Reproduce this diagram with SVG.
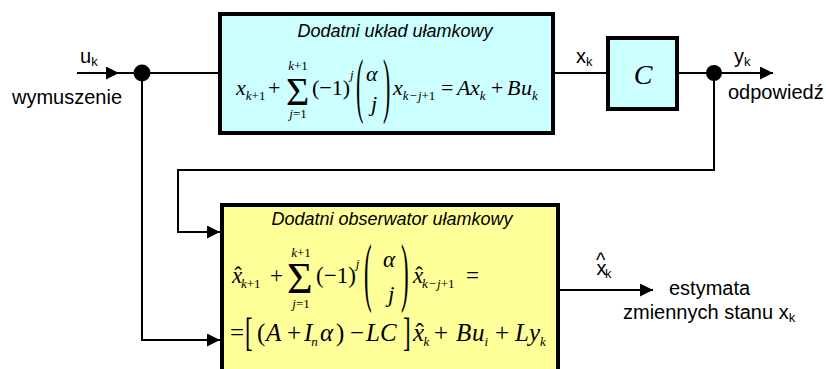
<svg xmlns="http://www.w3.org/2000/svg" width="826" height="369" viewBox="0 0 826 369">
<defs>
  <marker id="arr" markerWidth="13" markerHeight="13" refX="13" refY="6.5" orient="auto" markerUnits="userSpaceOnUse">
    <path d="M0,0 L13,6.5 L0,13 Z" fill="#000"/>
  </marker>
</defs>
<style>
  .ln{stroke:#000;stroke-width:2;fill:none}
  .box{stroke:#000;stroke-width:4}
  .lbl{font-family:"Liberation Sans",Arial,sans-serif;font-size:20px;fill:#000}
  .lsub{font-size:13px}
  .ttl{font-family:"Liberation Sans",Arial,sans-serif;font-size:18px;font-style:italic;text-anchor:middle;fill:#000}
  .m{font-family:"Liberation Serif","Times New Roman",serif;font-size:22px;fill:#000}
  .y{font-size:23px}
  .z{font-size:25px}
  .i{font-style:italic}
  .n{font-style:normal}
  .s{font-size:13px}
  .c{text-anchor:middle}
  .sig1{font-size:40px}
  .sig2{font-size:44px}
  .bigC{font-size:28px}
</style>
<rect width="826" height="369" fill="#fff"/>

<g id="connectors">
  <path class="ln" d="M77,73 H119" marker-end="url(#arr)"/>
  <path class="ln" d="M118,73 H218"/>
  <path class="ln" d="M142,73 V340 H220" marker-end="url(#arr)"/>
  <path class="ln" d="M555,73 H607"/>
  <path class="ln" d="M678,73 H773" marker-end="url(#arr)"/>
  <path class="ln" d="M714,73 V170 H178 V232 H220" marker-end="url(#arr)"/>
  <path class="ln" d="M560,290 H653" marker-end="url(#arr)"/>
  <circle cx="142" cy="73" r="8.5" fill="#000"/>
  <circle cx="714" cy="73" r="8" fill="#000"/>
</g>

<g id="labels">
  <text class="lbl" x="80" y="63">u<tspan class="lsub" dy="3">k</tspan></text>
  <text class="lbl" x="12" y="104">wymuszenie</text>
  <text class="lbl" x="576" y="63">x<tspan class="lsub" dy="3">k</tspan></text>
  <text class="lbl" x="734" y="63">y<tspan class="lsub" dy="3">k</tspan></text>
  <text class="lbl" x="728" y="99">odpowiedź</text>
  <text class="lbl" x="596" y="275">x<tspan dx="-10.5" dy="-8">^</tspan><tspan class="lsub" dx="-0.5" dy="11">k</tspan></text>
  <text class="lbl" x="669" y="295">estymata</text>
  <text class="lbl" x="623" y="319">zmiennych stanu x<tspan class="lsub" dy="3">k</tspan></text>
</g>

<g id="system">
  <rect class="box" x="220" y="14" width="333" height="119" fill="#CCFFFF"/>
  <text class="ttl" x="395" y="37">Dodatni układ ułamkowy</text>
  <text class="m i" x="236" y="95">x<tspan class="s n" dy="5"><tspan class="i">k</tspan>+1</tspan></text>
  <text class="m" x="268" y="95">+</text>
  <text class="m sig1" x="286" y="105">Σ</text>
  <text class="m s c" x="298" y="70"><tspan class="i">k</tspan>+1</text>
  <text class="m s c" x="298" y="118"><tspan class="i">j</tspan>=1</text>
  <text class="m" x="312" y="95">(−1)<tspan class="s i" dy="-16">j</tspan></text>
  <text class="m" transform="translate(356,109) scale(1,3.3)">(</text>
  <text class="m i" x="366" y="81">α</text>
  <text class="m i" x="371" y="111">j</text>
  <text class="m" transform="translate(383,109) scale(1,3.3)">)</text>
  <text class="m i" x="393" y="95">x<tspan class="s" dy="5">k<tspan class="n" dx="1">−</tspan><tspan dx="1">j</tspan><tspan class="n">+1</tspan></tspan></text>
  <text class="m" x="441" y="95">=</text>
  <text class="m i" x="457" y="95">A</text>
  <text class="m i" x="470" y="95">x<tspan class="s" dy="5">k</tspan></text>
  <text class="m" x="491" y="95">+</text>
  <text class="m i" x="507" y="95">B</text>
  <text class="m i" x="521" y="95">u<tspan class="s" dy="5">k</tspan></text>
</g>

<g id="output-C">
  <rect class="box" x="608" y="38" width="69" height="71" fill="#CCFFFF"/>
  <text class="m i c bigC" x="643" y="84">C</text>
</g>

<g id="observer">
  <rect class="box" x="222" y="205" width="336" height="170" fill="#FFFF99"/>
  <text class="ttl" x="392" y="225">Dodatni obserwator ułamkowy</text>
  <!-- line 1 -->
  <text class="m y i" x="232" y="283">x<tspan class="n" dx="-8">ˆ</tspan><tspan class="s n" dx="-1" dy="5"><tspan class="i">k</tspan>+1</tspan></text>
  <text class="m y" x="270" y="283">+</text>
  <text class="m sig2" x="287" y="293">Σ</text>
  <text class="m s c" x="301" y="257"><tspan class="i">k</tspan>+1</text>
  <text class="m s c" x="301" y="308"><tspan class="i">j</tspan>=1</text>
  <text class="m y" x="316" y="283">(−1)<tspan class="s i" dy="-15">j</tspan></text>
  <text class="m y" transform="translate(364,296.5) scale(1,3.31)">(</text>
  <text class="m y i" x="383" y="267">α</text>
  <text class="m y i" x="388" y="302">j</text>
  <text class="m y" transform="translate(401,296.5) scale(1,3.31)">)</text>
  <text class="m y i" x="413" y="283">x<tspan class="n" dx="-8">ˆ</tspan><tspan class="s" dx="-1" dy="5">k<tspan class="n" dx="1">−</tspan><tspan dx="1">j</tspan><tspan class="n">+1</tspan></tspan></text>
  <text class="m y" x="466" y="283">=</text>
  <!-- line 2 -->
  <text class="m z" x="230" y="341">=</text>
  <text class="m y" transform="translate(245,345.9) scale(1,1.7)">[</text>
  <text class="m z" x="257" y="341">(</text>
  <text class="m z i" x="266" y="341">A</text>
  <text class="m z" x="287" y="341">+</text>
  <text class="m z i" x="304" y="341">I<tspan class="s" dx="-1" dy="5">n</tspan></text>
  <text class="m z i" x="320" y="341">α</text>
  <text class="m z" x="336" y="341">)</text>
  <text class="m z" x="350" y="341">−</text>
  <text class="m z i" x="366" y="341">LC</text>
  <text class="m y" transform="translate(403,345.9) scale(1,1.7)">]</text>
  <text class="m z i" x="413" y="341">x<tspan class="n" dx="-8.5">ˆ</tspan><tspan class="s" dx="-0.5" dy="5">k</tspan></text>
  <text class="m z" x="434" y="341">+</text>
  <text class="m z i" x="456" y="341">B</text>
  <text class="m z i" x="472" y="341">u<tspan class="s" dy="5">i</tspan></text>
  <text class="m z" x="495" y="341">+</text>
  <text class="m z i" x="515" y="341">L</text>
  <text class="m z i" x="529" y="341">y<tspan class="s" dy="5">k</tspan></text>
</g>
</svg>
